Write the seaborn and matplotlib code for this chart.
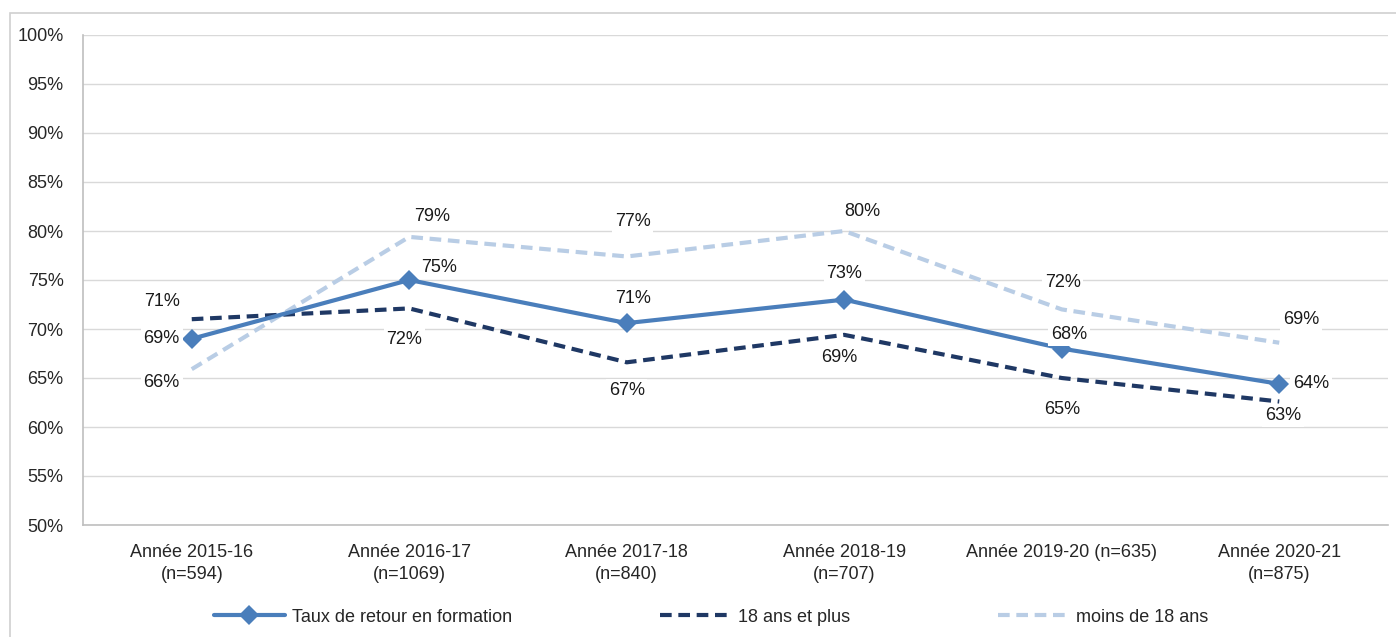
import matplotlib
matplotlib.use("Agg")
import matplotlib.pyplot as plt
from matplotlib.patches import Rectangle
from matplotlib.lines import Line2D
import seaborn as sns
import pandas as pd

# Categories (school years with sample size)
categories = [
    "Année 2015-16\n(n=594)",
    "Année 2016-17\n(n=1069)",
    "Année 2017-18\n(n=840)",
    "Année 2018-19\n(n=707)",
    "Année 2019-20 (n=635)",
    "Année 2020-21\n(n=875)",
]

# Series values (percent)
taux_retour = [69.0, 75.0, 70.6, 73.0, 68.0, 64.4]
adultes = [71.0, 72.1, 66.6, 69.4, 65.0, 62.6]
mineurs = [65.9, 79.4, 77.4, 80.0, 72.0, 68.6]

series_names = ["Taux de retour en formation", "18 ans et plus", "moins de 18 ans"]
y_ticks = list(range(50, 101, 5))

sns.set_theme(style="white")
plt.rcParams["font.family"] = ["Liberation Sans", "DejaVu Sans"]
FS = 13

rows = []
for name, vals in zip(series_names, [taux_retour, adultes, mineurs]):
    for i, v in enumerate(vals):
        rows.append({"pos": i, "value": v, "serie": name})
df = pd.DataFrame(rows)

fig = plt.figure(figsize=(13.96, 6.37), dpi=100)
ax = fig.add_axes([83 / 1396, 1 - 525 / 637, (1388 - 83) / 1396, (525 - 35) / 637])

colors = {
    "Taux de retour en formation": "#4a7ebb",
    "18 ans et plus": "#1f3864",
    "moins de 18 ans": "#b9cde5",
}
DASH = (2.8, 1.6)

# draw back-to-front: light dashed, dark dashed, then solid with markers
sns.lineplot(data=df[df.serie == "moins de 18 ans"], x="pos", y="value",
             color=colors["moins de 18 ans"], lw=3, dashes=DASH, ax=ax,
             legend=False, zorder=2)
sns.lineplot(data=df[df.serie == "18 ans et plus"], x="pos", y="value",
             color=colors["18 ans et plus"], lw=3, dashes=DASH, ax=ax,
             legend=False, zorder=3)
sns.lineplot(data=df[df.serie == "Taux de retour en formation"], x="pos", y="value",
             color=colors["Taux de retour en formation"], lw=3, marker="D",
             markersize=10, markeredgewidth=0, ax=ax, legend=False, zorder=4)

# data labels: (dx px, dy px) offsets from each point
offs_taux = [(-30, 0), (30, 12), (6, 25), (0, 26), (7, 14), (32, 0)]
offs_adultes = [(-30, 18), (-5, -31), (0, -28), (-5, -23), (0, -31), (4, -14)]
offs_mineurs = [(-30, -13), (23, 20), (6, 35), (18, 19), (1, 27), (22, 23)]

def put_labels(vals, offs):
    for i, (v, (dx, dy)) in enumerate(zip(vals, offs)):
        ax.annotate(f"{v:.0f}%", (i, v), xytext=(dx * 0.72, dy * 0.72),
                    textcoords="offset points", ha="center", va="center",
                    fontsize=FS, color="#1a1a1a", zorder=6,
                    bbox=dict(boxstyle="square,pad=0.15", fc="white", ec="none"))

put_labels(mineurs, offs_mineurs)
put_labels(adultes, offs_adultes)
put_labels(taux_retour, offs_taux)

ax.set_xlim(-0.5, 5.5)
ax.set_ylim(50, 100)
ax.set_yticks(y_ticks)
ax.set_yticklabels([f"{t}%" for t in y_ticks])
ax.set_xticks(range(len(categories)))
ax.set_xticklabels(categories, linespacing=1.35, va="top")
ax.set_xticks([i - 0.5 for i in range(len(categories) + 1)], minor=True)
ax.tick_params(axis="x", which="major", length=0, pad=14, labelsize=FS)
ax.tick_params(axis="x", which="minor", length=5, color="#bfbfbf", width=1, direction="out")
ax.tick_params(axis="y", length=5, color="#bfbfbf", width=1, direction="out", pad=9, labelsize=FS)
ax.set_xlabel("")
ax.set_ylabel("")
ax.grid(axis="y", color="#d9d9d9", lw=1)
ax.set_axisbelow(True)
for side in ["top", "right"]:
    ax.spines[side].set_visible(False)
for side in ["left", "bottom"]:
    ax.spines[side].set_color("#bfbfbf")
    ax.spines[side].set_linewidth(1.2)

handles = [
    Line2D([], [], color=colors["Taux de retour en formation"], lw=3, marker="D", markersize=10, markeredgewidth=0),
    Line2D([], [], color=colors["18 ans et plus"], lw=3, dashes=DASH),
    Line2D([], [], color=colors["moins de 18 ans"], lw=3, dashes=DASH),
]
fig.legend(handles, series_names, loc="center",
           bbox_to_anchor=(0.5 + 13 / 1396, 1 - 617 / 637),
           ncol=3, frameon=False, handlelength=3.9, columnspacing=8.2,
           handletextpad=0.4, fontsize=FS)

# chart area frame
fig.patches.append(Rectangle((10 / 1396, -0.01), 1.0, 1 - 13 / 637 + 0.01,
                             transform=fig.transFigure, fill=False,
                             ec="#d0d0d0", lw=1.2, zorder=0))

fig.savefig("out.png", dpi=100, facecolor="white")
